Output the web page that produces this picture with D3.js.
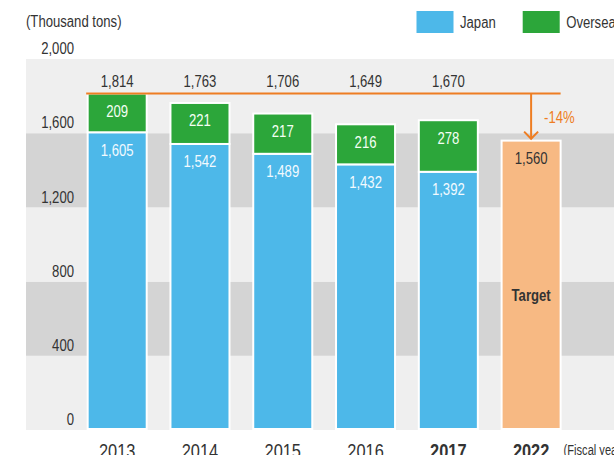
<!DOCTYPE html>
<html>
<head>
<meta charset="utf-8">
<script src="https://cdn.jsdelivr.net/npm/d3@7"></script>
<style>
  html, body { margin: 0; padding: 0; background: #ffffff; }
  svg { display: block; }
  text { font-family: "Liberation Sans", Arial, sans-serif; }
</style>
</head>
<body>
<svg id="chart" width="614" height="455"></svg>
<script>
// ---- data ----
const years = ["2013", "2014", "2015", "2016", "2017", "2022"];
const actualYears = ["2013", "2014", "2015", "2016", "2017"];
const japan = [1605, 1542, 1489, 1432, 1392];
const overseas = [209, 221, 217, 216, 278];
const totals = [1814, 1763, 1706, 1649, 1670];
const targetYear = "2022";
const targetValue = 1560;
const changeLabel = "-14%";
const yTicks = [0, 400, 800, 1200, 1600, 2000];
const boldYears = ["2017", "2022"];
const seriesNames = ["Japan", "Overseas"];
const unitLabel = "(Thousand tons)";
const xUnitLabel = "(Fiscal year)";
const targetLabel = "Target";

// ---- styles ----
const C = {
  japan: "#4db8e9",
  overseas: "#2ca63a",
  target: "#f7b983",
  line: "#ee7d22",
  bandLight: "#efefef",
  bandDark: "#d4d4d4",
  text: "#333333"
};
const SX = 0.82; // condensed look

const svg = d3.select("#chart");

const x = d3.scaleBand()
  .domain(years)
  .range([75.8, 572.5])
  .paddingInner(0.287)
  .paddingOuter(0.1435);

const y = d3.scaleLinear().domain([0, 2000]).range([430, 59]);
const fmt = d3.format(",");

function txt(parent, px, py, s, o = {}) {
  const g = parent.append("g")
    .attr("transform", `translate(${px},${py}) scale(${o.sx || SX},1)`);
  return g.append("text")
    .attr("text-anchor", o.anchor || "start")
    .attr("font-size", o.size || 16)
    .attr("font-weight", o.weight || "normal")
    .attr("fill", o.fill || C.text)
    .text(s);
}

// ---- background bands ----
const bandData = d3.pairs(yTicks).map((p, i) => ({ lo: p[0], hi: p[1], i }));
svg.append("g").selectAll("rect").data(bandData).join("rect")
  .attr("x", 26)
  .attr("width", 614 - 26)
  .attr("y", d => y(d.hi))
  .attr("height", d => y(d.lo) - y(d.hi))
  .attr("fill", d => (d.i % 2 === 0 ? C.bandLight : C.bandDark));

// ---- y tick labels ----
const yAxisG = svg.append("g");
yTicks.forEach(v => txt(yAxisG, 74, y(v) - 4.8, fmt(v), { anchor: "end" }));

// ---- stacked bars ----
const stackRows = actualYears.map((yr, i) => ({ year: yr, Japan: japan[i], Overseas: overseas[i] }));
const stack = d3.stack().keys(seriesNames)(stackRows);
const colors = { Japan: C.japan, Overseas: C.overseas };

const barsG = svg.append("g");
stack.forEach(layer => {
  barsG.append("g").selectAll("rect").data(layer).join("rect")
    .attr("x", d => x(d.data.year))
    .attr("width", x.bandwidth())
    .attr("y", d => y(d[1]))
    .attr("height", d => y(d[0]) - y(d[1]) - (d[0] === 0 ? 1 : 0))
    .attr("fill", colors[layer.key])
    .attr("stroke", "#ffffff")
    .attr("stroke-width", 2);
});

// target bar
barsG.append("rect")
  .attr("x", x(targetYear))
  .attr("width", x.bandwidth())
  .attr("y", y(targetValue))
  .attr("height", y(0) - y(targetValue) - 1)
  .attr("fill", C.target)
  .attr("stroke", "#ffffff")
  .attr("stroke-width", 2);

// ---- segment labels ----
const labG = svg.append("g");
stack.forEach(layer => {
  layer.forEach(d => {
    const cx = x(d.data.year) + x.bandwidth() / 2;
    txt(labG, cx, y(d[1]) + 23.5, fmt(d.data[layer.key]), {
      anchor: "middle",
      fill: layer.key === "Japan" ? "#f2faff" : "#f4fff4"
    });
  });
});
const tcx = x(targetYear) + x.bandwidth() / 2;
txt(labG, tcx, y(targetValue) + 23.5, fmt(targetValue), { anchor: "middle" });
txt(labG, tcx, 301, targetLabel, { anchor: "middle", weight: "bold" });

// totals
const maxTotal = d3.max(totals);
actualYears.forEach((yr, i) => {
  txt(labG, x(yr) + x.bandwidth() / 2, y(maxTotal) - 7, fmt(totals[i]), { anchor: "middle" });
});

// ---- reduction line / arrow ----
const lineG = svg.append("g")
  .attr("fill", "none")
  .attr("stroke", C.line)
  .attr("stroke-width", 2);
const yTop = y(maxTotal);
lineG.append("line")
  .attr("x1", x(years[0]) - 1.5).attr("x2", x(targetYear) + x.bandwidth())
  .attr("y1", yTop).attr("y2", yTop);
lineG.append("line")
  .attr("x1", tcx).attr("x2", tcx)
  .attr("y1", yTop).attr("y2", y(targetValue) - 1.5);
lineG.append("path")
  .attr("d", d3.line()([[tcx - 7, y(targetValue) - 9], [tcx, y(targetValue) - 1.8], [tcx + 7, y(targetValue) - 9]]));
txt(svg, tcx + 13, 122.5, changeLabel, { fill: C.line });

// ---- x labels ----
const xG = svg.append("g");
years.forEach(yr => {
  txt(xG, x(yr) + x.bandwidth() / 2, 457.5, yr, {
    anchor: "middle",
    size: 20,
    weight: boldYears.includes(yr) ? "bold" : "normal"
  });
});
txt(xG, x(targetYear) + x.bandwidth() + 3, 455, xUnitLabel, { size: 15, sx: 0.74 });

// ---- unit label & legend ----
txt(svg, 26, 26.7, unitLabel);
const legG = svg.append("g");
const legendX = [416.5, 522.7];
seriesNames.forEach((name, i) => {
  legG.append("rect")
    .attr("x", legendX[i]).attr("y", 11)
    .attr("width", 37).attr("height", 22)
    .attr("fill", colors[name]);
  txt(legG, legendX[i] + 43.5, 27.7, name);
});
</script>
</body>
</html>
